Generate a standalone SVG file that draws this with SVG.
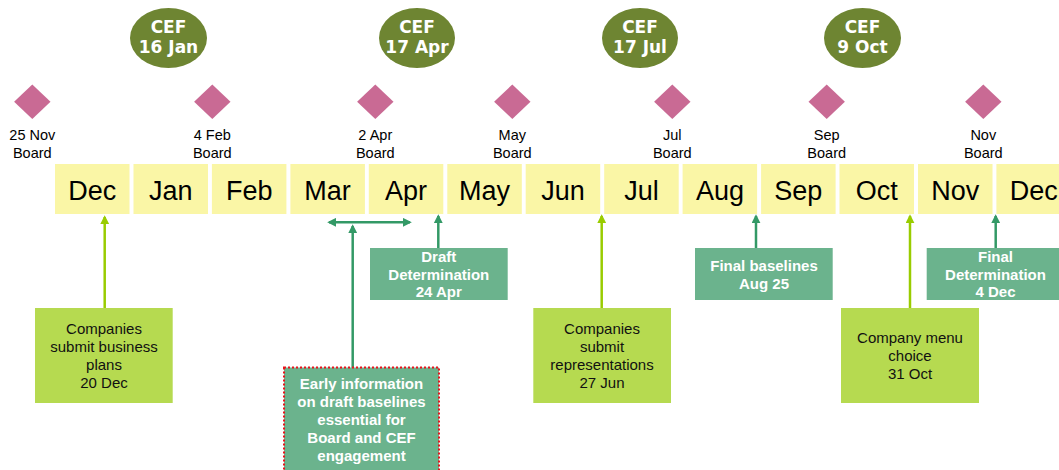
<svg xmlns="http://www.w3.org/2000/svg" width="1059" height="470" viewBox="0 0 1059 470">
<defs>
<style>
.month{fill:#FAF6A6}
.mtxt{font-family:"Liberation Sans",Arial,sans-serif;font-size:27px;fill:#000;text-anchor:middle}
.cef{fill:#6E8532}
.ceft{font-family:"DejaVu Sans",sans-serif;font-weight:bold;font-size:17px;fill:#fff;text-anchor:middle}
.dia{fill:#C96A94}
.btxt{font-family:"Liberation Sans",Arial,sans-serif;font-size:14.5px;fill:#000;text-anchor:middle}
.lime{fill:#B6DA50}
.teal{fill:#6BB38D}
.ltxt{font-family:"Liberation Sans",Arial,sans-serif;font-size:15px;fill:#111;text-anchor:middle}
.ttxt{font-family:"Liberation Sans",Arial,sans-serif;font-size:15px;font-weight:bold;fill:#fff;text-anchor:middle}
.la{stroke:#99CC00;stroke-width:2.5;fill:none}
.ta{stroke:#339966;stroke-width:2.5;fill:none}
</style>
<marker id="ahL" viewBox="0 0 10 10" refX="8" refY="5" markerUnits="userSpaceOnUse" markerWidth="9" markerHeight="9" orient="auto-start-reverse"><path d="M0,0 L10,5 L0,10 z" fill="#99CC00"/></marker>
<marker id="ahT" viewBox="0 0 10 10" refX="8" refY="5" markerUnits="userSpaceOnUse" markerWidth="9" markerHeight="9" orient="auto-start-reverse"><path d="M0,0 L10,5 L0,10 z" fill="#339966"/></marker>
</defs>
<rect width="1059" height="470" fill="#fff"/>

<g id="months">
<g id="m-dec"><rect class="month" x="55" y="164" width="74.5" height="50"/><text class="mtxt" x="92.3" y="200">Dec</text></g>
<g id="m-jan"><rect class="month" x="133.5" y="164" width="74.5" height="50"/><text class="mtxt" x="170.7" y="200">Jan</text></g>
<g id="m-feb"><rect class="month" x="211.9" y="164" width="74.5" height="50"/><text class="mtxt" x="249.2" y="200">Feb</text></g>
<g id="m-mar"><rect class="month" x="290.4" y="164" width="74.5" height="50"/><text class="mtxt" x="327.6" y="200">Mar</text></g>
<g id="m-apr"><rect class="month" x="368.8" y="164" width="74.5" height="50"/><text class="mtxt" x="406.1" y="200">Apr</text></g>
<g id="m-may"><rect class="month" x="447.3" y="164" width="74.5" height="50"/><text class="mtxt" x="484.5" y="200">May</text></g>
<g id="m-jun"><rect class="month" x="525.7" y="164" width="74.5" height="50"/><text class="mtxt" x="563" y="200">Jun</text></g>
<g id="m-jul"><rect class="month" x="604.2" y="164" width="74.5" height="50"/><text class="mtxt" x="641.4" y="200">Jul</text></g>
<g id="m-aug"><rect class="month" x="682.6" y="164" width="74.5" height="50"/><text class="mtxt" x="719.9" y="200">Aug</text></g>
<g id="m-sep"><rect class="month" x="761.1" y="164" width="74.5" height="50"/><text class="mtxt" x="798.3" y="200">Sep</text></g>
<g id="m-oct"><rect class="month" x="839.5" y="164" width="74.5" height="50"/><text class="mtxt" x="876.8" y="200">Oct</text></g>
<g id="m-nov"><rect class="month" x="918" y="164" width="74.5" height="50"/><text class="mtxt" x="955.2" y="200">Nov</text></g>
<g id="m-dec2"><rect class="month" x="996.4" y="164" width="74.5" height="50"/><text class="mtxt" x="1033.7" y="200">Dec</text></g>
</g>

<g id="cef">
<g id="cef-jan"><ellipse class="cef" cx="168.5" cy="38" rx="38.5" ry="30"/><text class="ceft" x="168.5" y="33">CEF</text><text class="ceft" x="168.5" y="53">16 Jan</text></g>
<g id="cef-apr"><ellipse class="cef" cx="417" cy="38" rx="38" ry="30"/><text class="ceft" x="417" y="33">CEF</text><text class="ceft" x="417" y="53">17 Apr</text></g>
<g id="cef-jul"><ellipse class="cef" cx="640" cy="38" rx="38" ry="30"/><text class="ceft" x="640" y="33">CEF</text><text class="ceft" x="640" y="53">17 Jul</text></g>
<g id="cef-oct"><ellipse class="cef" cx="862.5" cy="38" rx="38.5" ry="30"/><text class="ceft" x="862.5" y="33">CEF</text><text class="ceft" x="862.5" y="53">9 Oct</text></g>
</g>

<g id="boards">
<g id="b-nov"><path class="dia" d="M32.3,84.5 L50.5,101.7 L32.3,118.9 L14.1,101.7 z"/><text class="btxt" x="32.3" y="140">25 Nov</text><text class="btxt" x="32.3" y="158">Board</text></g>
<g id="b-feb"><path class="dia" d="M212.3,84.5 L230.5,101.7 L212.3,118.9 L194.1,101.7 z"/><text class="btxt" x="212.3" y="140">4 Feb</text><text class="btxt" x="212.3" y="158">Board</text></g>
<g id="b-apr"><path class="dia" d="M375.3,84.5 L393.5,101.7 L375.3,118.9 L357.1,101.7 z"/><text class="btxt" x="375.3" y="140">2 Apr</text><text class="btxt" x="375.3" y="158">Board</text></g>
<g id="b-may"><path class="dia" d="M512.3,84.5 L530.5,101.7 L512.3,118.9 L494.1,101.7 z"/><text class="btxt" x="512.3" y="140">May</text><text class="btxt" x="512.3" y="158">Board</text></g>
<g id="b-jul"><path class="dia" d="M672.3,84.5 L690.5,101.7 L672.3,118.9 L654.1,101.7 z"/><text class="btxt" x="672.3" y="140">Jul</text><text class="btxt" x="672.3" y="158">Board</text></g>
<g id="b-sep"><path class="dia" d="M826.7,84.5 L844.9,101.7 L826.7,118.9 L808.5,101.7 z"/><text class="btxt" x="826.7" y="140">Sep</text><text class="btxt" x="826.7" y="158">Board</text></g>
<g id="b-nov2"><path class="dia" d="M983.3,84.5 L1001.5,101.7 L983.3,118.9 L965.1,101.7 z"/><text class="btxt" x="983.3" y="140">Nov</text><text class="btxt" x="983.3" y="158">Board</text></g>
</g>

<g id="connectors">
<line class="la" x1="104.7" y1="308" x2="104.7" y2="217" marker-end="url(#ahL)"/>
<line class="ta" x1="329" y1="222.3" x2="410" y2="222.3" marker-start="url(#ahT)" marker-end="url(#ahT)"/>
<line class="ta" x1="352.7" y1="368" x2="352.7" y2="226" marker-end="url(#ahT)"/>
<line class="ta" x1="438.3" y1="248" x2="438.3" y2="216" marker-end="url(#ahT)"/>
<line class="la" x1="601.7" y1="308" x2="601.7" y2="216" marker-end="url(#ahL)"/>
<line class="ta" x1="756" y1="248" x2="756" y2="216" marker-end="url(#ahT)"/>
<line class="la" x1="910" y1="308" x2="910" y2="216" marker-end="url(#ahL)"/>
<line class="ta" x1="995.7" y1="248" x2="995.7" y2="216" marker-end="url(#ahT)"/>
</g>

<g id="n-plans"><rect class="lime" x="35" y="308" width="137.7" height="95"/>
<text class="ltxt" x="104" y="334">Companies</text><text class="ltxt" x="104" y="352">submit business</text><text class="ltxt" x="104" y="370">plans</text><text class="ltxt" x="104" y="388">20 Dec</text></g>

<g id="n-early"><rect class="teal" x="284" y="367.5" width="155" height="110" stroke="#E8141C" stroke-width="2" stroke-dasharray="2 2"/>
<text class="ttxt" x="361.5" y="389.3">Early information</text><text class="ttxt" x="361.5" y="407.3">on draft baselines</text><text class="ttxt" x="361.5" y="425.3">essential for</text><text class="ttxt" x="361.5" y="443.3">Board and CEF</text><text class="ttxt" x="361.5" y="461.3">engagement</text></g>

<g id="n-draft"><rect class="teal" x="370" y="248" width="137.7" height="52"/>
<text class="ttxt" x="438.8" y="262">Draft</text><text class="ttxt" x="438.8" y="279.5">Determination</text><text class="ttxt" x="438.8" y="297">24 Apr</text></g>

<g id="n-reps"><rect class="lime" x="533.3" y="308" width="137.7" height="95"/>
<text class="ltxt" x="602" y="334">Companies</text><text class="ltxt" x="602" y="352">submit</text><text class="ltxt" x="602" y="370">representations</text><text class="ltxt" x="602" y="388">27 Jun</text></g>

<g id="n-final-baselines"><rect class="teal" x="695" y="248" width="137.7" height="52"/>
<text class="ttxt" x="764" y="270.7">Final baselines</text><text class="ttxt" x="764" y="289">Aug 25</text></g>

<g id="n-menu"><rect class="lime" x="841" y="308" width="138" height="95"/>
<text class="ltxt" x="910" y="343.3">Company menu</text><text class="ltxt" x="910" y="361.3">choice</text><text class="ltxt" x="910" y="379.3">31 Oct</text></g>

<g id="n-final-det"><rect class="teal" x="926.7" y="248" width="137.7" height="52"/>
<text class="ttxt" x="995.5" y="262">Final</text><text class="ttxt" x="995.5" y="279.5">Determination</text><text class="ttxt" x="995.5" y="297">4 Dec</text></g>
</svg>
